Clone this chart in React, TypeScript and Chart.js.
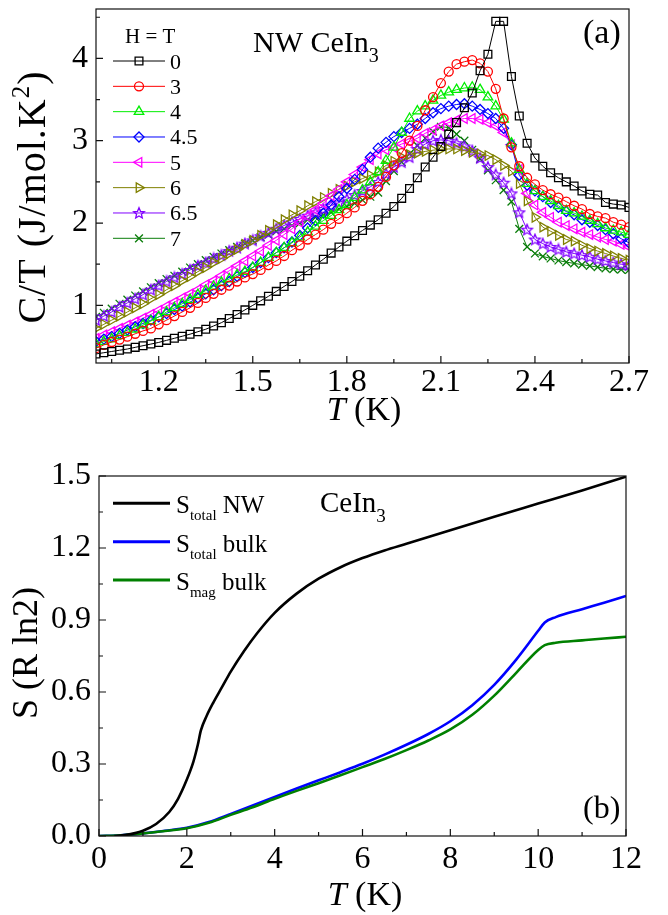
import React, { useEffect, useRef } from 'react';
import { Chart, registerables } from 'chart.js';

Chart.register(...registerables);

const FONT = "'Liberation Serif', 'Times New Roman', Times, serif";

// ---------------- Panel (a): C/T vs T ----------------
const T_A = [
  1.000, 1.025, 1.050, 1.075, 1.100, 1.125, 1.150, 1.175, 1.200, 1.225,
  1.250, 1.275, 1.300, 1.325, 1.350, 1.375, 1.400, 1.425, 1.450, 1.475,
  1.500, 1.525, 1.550, 1.575, 1.600, 1.625, 1.650, 1.675, 1.700, 1.725,
  1.750, 1.775, 1.800, 1.825, 1.850, 1.875, 1.900, 1.925, 1.950, 1.975,
  2.000, 2.025, 2.050, 2.075, 2.100, 2.125, 2.150, 2.175, 2.200, 2.225,
  2.250, 2.275, 2.300, 2.325, 2.350, 2.375, 2.400, 2.425, 2.450, 2.475,
  2.500, 2.525, 2.550, 2.575, 2.600, 2.625, 2.650, 2.675, 2.700,
];

const FIELD_LABELS = ['0', '3', '4', '4.5', '5', '6', '6.5', '7'];

const C_H0 = [
  0.41, 0.425, 0.44, 0.455, 0.47, 0.49, 0.51, 0.53, 0.55, 0.575,
  0.60, 0.625, 0.65, 0.68, 0.71, 0.75, 0.79, 0.84, 0.89, 0.945,
  1.00, 1.055, 1.11, 1.17, 1.23, 1.29, 1.355, 1.42, 1.49, 1.56,
  1.635, 1.71, 1.78, 1.845, 1.91, 1.975, 2.04, 2.12, 2.20, 2.30,
  2.42, 2.55, 2.68, 2.80, 2.93, 3.08, 3.22, 3.40, 3.58, 3.85,
  4.05, 4.45, 4.45, 3.78, 3.30, 2.97, 2.79, 2.69, 2.61, 2.55,
  2.50, 2.45, 2.39, 2.35, 2.34, 2.25, 2.23, 2.22, 2.19,
];
const C_H3 = [
  0.48, 0.52, 0.555, 0.585, 0.62, 0.655, 0.69, 0.72, 0.77, 0.82,
  0.87, 0.92, 0.97, 1.03, 1.09, 1.14, 1.19, 1.24, 1.29, 1.34,
  1.38, 1.43, 1.49, 1.54, 1.60, 1.67, 1.73, 1.80, 1.86, 1.92,
  1.99, 2.05, 2.12, 2.19, 2.27, 2.35, 2.44, 2.56, 2.70, 2.85,
  3.00, 3.18, 3.37, 3.53, 3.70, 3.84, 3.93, 3.96, 3.98, 3.94,
  3.84, 3.63, 3.27, 2.92, 2.69, 2.55, 2.47, 2.40, 2.35, 2.31,
  2.26, 2.21, 2.17, 2.11, 2.08, 2.06, 2.01, 1.98, 1.95,
];
const C_H4 = [
  0.53, 0.56, 0.59, 0.63, 0.67, 0.71, 0.76, 0.81, 0.86, 0.92,
  0.97, 1.02, 1.07, 1.13, 1.18, 1.23, 1.28, 1.32, 1.37, 1.41,
  1.46, 1.52, 1.58, 1.64, 1.70, 1.76, 1.83, 1.89, 1.96, 2.03,
  2.09, 2.16, 2.22, 2.31, 2.40, 2.50, 2.62, 2.76, 2.92, 3.10,
  3.27, 3.36, 3.42, 3.49, 3.55, 3.59, 3.62, 3.64, 3.65, 3.62,
  3.53, 3.42, 3.26, 2.97, 2.65, 2.48, 2.39, 2.32, 2.27, 2.21,
  2.15, 2.12, 2.08, 2.03, 1.99, 1.94, 1.91, 1.89, 1.86,
];
const C_H45 = [
  0.56, 0.59, 0.62, 0.66, 0.70, 0.74, 0.78, 0.82, 0.86, 0.90,
  0.95, 0.99, 1.04, 1.09, 1.14, 1.19, 1.24, 1.29, 1.35, 1.40,
  1.46, 1.52, 1.58, 1.64, 1.70, 1.77, 1.85, 1.94, 2.03, 2.12,
  2.22, 2.32, 2.42, 2.53, 2.65, 2.80, 2.91, 2.98, 3.05, 3.10,
  3.15, 3.20, 3.27, 3.34, 3.39, 3.42, 3.44, 3.45, 3.42, 3.38,
  3.33, 3.27, 3.15, 2.95, 2.58, 2.46, 2.39, 2.32, 2.25, 2.19,
  2.14, 2.10, 2.04, 2.01, 1.97, 1.92, 1.87, 1.81, 1.76,
];
const C_H5 = [
  0.60, 0.64, 0.68, 0.72, 0.76, 0.80, 0.845, 0.89, 0.94, 0.99,
  1.04, 1.09, 1.14, 1.19, 1.25, 1.30, 1.36, 1.42, 1.48, 1.54,
  1.60, 1.66, 1.73, 1.79, 1.86, 1.93, 2.01, 2.08, 2.16, 2.24,
  2.33, 2.41, 2.50, 2.59, 2.68, 2.77, 2.84, 2.89, 2.92, 2.96,
  2.99, 3.03, 3.09, 3.13, 3.18, 3.22, 3.25, 3.27, 3.27, 3.26,
  3.22, 3.18, 3.10, 2.95, 2.65, 2.36, 2.22, 2.13, 2.07, 2.01,
  1.97, 1.93, 1.89, 1.86, 1.83, 1.80, 1.78, 1.74, 1.71,
];
const C_H6 = [
  0.72, 0.77, 0.82, 0.87, 0.92, 0.97, 1.02, 1.08, 1.13, 1.19,
  1.24, 1.30, 1.35, 1.41, 1.46, 1.52, 1.57, 1.63, 1.68, 1.74,
  1.79, 1.85, 1.91, 1.98, 2.04, 2.10, 2.15, 2.21, 2.26, 2.31,
  2.36, 2.41, 2.45, 2.50, 2.54, 2.58, 2.62, 2.70, 2.75, 2.80,
  2.83, 2.85, 2.87, 2.885, 2.895, 2.90, 2.90, 2.88, 2.86, 2.84,
  2.82, 2.77, 2.70, 2.63, 2.48, 2.27, 2.07, 1.95, 1.90, 1.85,
  1.80, 1.78, 1.73, 1.69, 1.66, 1.63, 1.60, 1.57, 1.55,
];
const C_H65 = [
  0.82, 0.87, 0.92, 0.98, 1.03, 1.08, 1.13, 1.19, 1.24, 1.29,
  1.34, 1.38, 1.43, 1.48, 1.52, 1.57, 1.61, 1.66, 1.70, 1.75,
  1.79, 1.84, 1.88, 1.93, 1.97, 2.01, 2.05, 2.09, 2.13, 2.17,
  2.21, 2.25, 2.29, 2.34, 2.39, 2.44, 2.50, 2.60, 2.68, 2.74,
  2.80, 2.90, 2.96, 3.00, 3.01, 3.00, 2.97, 2.93, 2.88, 2.79,
  2.68, 2.59, 2.49, 2.36, 2.13, 1.92, 1.80, 1.75, 1.71, 1.68,
  1.65, 1.63, 1.61, 1.59, 1.56, 1.54, 1.52, 1.50, 1.49,
];
const C_H7 = [
  0.86, 0.91, 0.96, 1.02, 1.07, 1.12, 1.17, 1.22, 1.27, 1.32,
  1.36, 1.41, 1.46, 1.50, 1.55, 1.59, 1.63, 1.67, 1.71, 1.75,
  1.79, 1.83, 1.86, 1.90, 1.93, 1.97, 2.00, 2.04, 2.07, 2.10,
  2.13, 2.17, 2.20, 2.24, 2.28, 2.32, 2.37, 2.51, 2.63, 2.74,
  2.84, 2.94, 3.03, 3.11, 3.17, 3.16, 3.08, 3.00, 2.89, 2.78,
  2.64, 2.52, 2.40, 2.26, 1.93, 1.71, 1.63, 1.595, 1.57, 1.545,
  1.525, 1.51, 1.495, 1.48, 1.465, 1.45, 1.44, 1.435, 1.43,
];

const A_X_TICKS = [1.2, 1.5, 1.8, 2.1, 2.4, 2.7];
const A_X_LABELS = ['1.2', '1.5', '1.8', '2.1', '2.4', '2.7'];
const A_X_MINOR = [1.05, 1.35, 1.65, 1.95, 2.25, 2.55];
const A_Y_TICKS = [1, 2, 3, 4];
const A_Y_LABELS = ['1', '2', '3', '4'];
const A_Y_MINOR = [1.5, 2.5, 3.5, 4.5];

// ---------------- Panel (b): entropy ----------------
const T_NW = [
  0.35, 0.6, 1.0, 1.3, 1.6, 1.8, 2.0, 2.15, 2.25, 2.32, 2.45, 2.6, 2.8, 3.0,
  3.3, 3.6, 4.0, 4.5, 5.0, 5.5, 6.0, 6.5, 7.0, 8.0, 9.0, 10.0, 11.0, 12.0,
];
const S_TOTAL_NW = [
  0.0, 0.004, 0.022, 0.05, 0.10, 0.155, 0.235, 0.31, 0.38, 0.44, 0.50, 0.555, 0.62, 0.685,
  0.77, 0.845, 0.93, 1.01, 1.072, 1.12, 1.158, 1.19, 1.218, 1.274, 1.33, 1.385, 1.44, 1.497,
];
const T_BULK = [
  0, 0.5, 1, 1.5, 2, 2.5, 3, 3.5, 4, 4.5, 5, 5.5, 6, 6.5, 7, 7.5, 8, 8.5, 9, 9.5,
  10, 10.15, 10.4, 11, 11.5, 12,
];
const S_TOTAL_BULK = [
  0, 0.003, 0.011, 0.022, 0.034, 0.058, 0.092, 0.127, 0.163, 0.198, 0.232, 0.266, 0.301,
  0.339, 0.380, 0.425, 0.478, 0.545, 0.63, 0.735, 0.855, 0.89, 0.912, 0.945, 0.972, 1.0,
];
const S_MAG_BULK = [
  0, 0.003, 0.011, 0.021, 0.032, 0.055, 0.088, 0.12, 0.155, 0.188, 0.22, 0.253, 0.287,
  0.321, 0.358, 0.398, 0.444, 0.505, 0.585, 0.68, 0.775, 0.795, 0.805, 0.815, 0.823, 0.83,
];

const B_X_TICKS = [0, 2, 4, 6, 8, 10, 12];
const B_X_LABELS = ['0', '2', '4', '6', '8', '10', '12'];
const B_X_MINOR = [1, 3, 5, 7, 9, 11];
const B_Y_TICKS = [0, 0.3, 0.6, 0.9, 1.2, 1.5];
const B_Y_LABELS = ['0.0', '0.3', '0.6', '0.9', '1.2', '1.5'];
const B_Y_MINOR = [0.15, 0.45, 0.75, 1.05, 1.35];

// ---------------- styles ----------------
const A_SERIES = [C_H0, C_H3, C_H4, C_H45, C_H5, C_H6, C_H65, C_H7];
const A_STYLES = [
  { color: '#000000', point: 'rect', rot: 0, r: 5.5 },
  { color: '#ff0000', point: 'circle', rot: 0, r: 4.5 },
  { color: '#00ee00', point: 'triangle', rot: 0, r: 5.5 },
  { color: '#0000ff', point: 'rectRot', rot: 0, r: 5 },
  { color: '#ff00ff', point: 'triangle', rot: 270, r: 5.5 },
  { color: '#808000', point: 'triangle', rot: 90, r: 5.5 },
  { color: '#8000ff', point: 'star', rot: 0, r: 5 },
  { color: '#0a7d0a', point: 'crossRot', rot: 0, r: 5.5 },
];

type Run = { t: string; size: number; dy?: number; italic?: boolean };

function fontOf(r: Run) {
  return `${r.italic ? 'italic ' : ''}${r.size}px ${FONT}`;
}

function drawRuns(ctx: CanvasRenderingContext2D, x: number, y: number, runs: Run[], align: 'left' | 'center' = 'left') {
  ctx.textBaseline = 'alphabetic';
  ctx.textAlign = 'left';
  let total = 0;
  for (const r of runs) {
    ctx.font = fontOf(r);
    total += ctx.measureText(r.t).width;
  }
  let cx = align === 'center' ? x - total / 2 : x;
  for (const r of runs) {
    ctx.font = fontOf(r);
    ctx.fillText(r.t, cx, y + (r.dy || 0));
    cx += ctx.measureText(r.t).width;
  }
}

function drawRotated(ctx: CanvasRenderingContext2D, baseX: number, cy: number, runs: Run[], spacing = 0) {
  ctx.save();
  ctx.translate(baseX, cy);
  ctx.rotate(-Math.PI / 2);
  (ctx as any).letterSpacing = `${spacing}px`;
  drawRuns(ctx, 0, 0, runs, 'center');
  (ctx as any).letterSpacing = '0px';
  ctx.restore();
}

function starPath(ctx: CanvasRenderingContext2D, x: number, y: number, ro: number, ri: number) {
  ctx.beginPath();
  for (let k = 0; k < 10; k++) {
    const rr = k % 2 === 0 ? ro : ri;
    const a = -Math.PI / 2 + (k * Math.PI) / 5;
    const px = x + rr * Math.cos(a);
    const py = y + rr * Math.sin(a);
    if (k === 0) ctx.moveTo(px, py);
    else ctx.lineTo(px, py);
  }
  ctx.closePath();
}

function makeStar(color: string, r: number) {
  const size = Math.ceil(r * 2 + 4);
  const c = document.createElement('canvas');
  c.width = size;
  c.height = size;
  const g = c.getContext('2d')!;
  starPath(g, size / 2, size / 2 + 0.4, r + 0.6, (r + 0.6) * 0.45);
  g.strokeStyle = color;
  g.lineWidth = 1.3;
  g.stroke();
  return c;
}

function drawMarker(ctx: CanvasRenderingContext2D, kind: string, rotDeg: number, x: number, y: number, r: number, color: string, star: HTMLCanvasElement) {
  ctx.save();
  ctx.strokeStyle = color;
  ctx.lineWidth = 1.3;
  if (kind === 'star') {
    ctx.drawImage(star, x - star.width / 2, y - star.height / 2);
    ctx.restore();
    return;
  }
  ctx.beginPath();
  if (kind === 'rect') {
    const s = r * Math.SQRT1_2;
    ctx.rect(x - s, y - s, 2 * s, 2 * s);
  } else if (kind === 'circle') {
    ctx.arc(x, y, r, 0, Math.PI * 2);
  } else if (kind === 'triangle') {
    let rad = (rotDeg * Math.PI) / 180;
    ctx.moveTo(x + Math.sin(rad) * r, y - Math.cos(rad) * r);
    rad += (2 * Math.PI) / 3;
    ctx.lineTo(x + Math.sin(rad) * r, y - Math.cos(rad) * r);
    rad += (2 * Math.PI) / 3;
    ctx.lineTo(x + Math.sin(rad) * r, y - Math.cos(rad) * r);
    ctx.closePath();
  } else if (kind === 'rectRot') {
    ctx.moveTo(x - r, y);
    ctx.lineTo(x, y - r);
    ctx.lineTo(x + r, y);
    ctx.lineTo(x, y + r);
    ctx.closePath();
  } else if (kind === 'crossRot') {
    const o = r * Math.SQRT1_2;
    ctx.moveTo(x - o, y - o);
    ctx.lineTo(x + o, y + o);
    ctx.moveTo(x + o, y - o);
    ctx.lineTo(x - o, y + o);
  }
  ctx.stroke();
  ctx.restore();
}

function drawFrame(chart: any, xMaj: number[], xMin: number[], yMaj: number[], yMin: number[]) {
  const { ctx, chartArea: a, scales } = chart;
  ctx.save();
  ctx.strokeStyle = '#111';
  ctx.lineWidth = 1.2;
  ctx.strokeRect(a.left, a.top, a.right - a.left, a.bottom - a.top);
  ctx.beginPath();
  const tx = (vals: number[], len: number) => {
    for (const v of vals) {
      const p = scales.x.getPixelForValue(v);
      ctx.moveTo(p, a.bottom);
      ctx.lineTo(p, a.bottom - len);
    }
  };
  const ty = (vals: number[], len: number) => {
    for (const v of vals) {
      const p = scales.y.getPixelForValue(v);
      ctx.moveTo(a.left, p);
      ctx.lineTo(a.left + len, p);
    }
  };
  tx(xMaj, 7);
  tx(xMin, 4);
  ty(yMaj, 7);
  ty(yMin, 4);
  ctx.stroke();
  ctx.restore();
}

function scaleOpts(min: number, max: number, ticks: number[], labels: string[], fitSize: number, horizontal: boolean, padding: number) {
  return {
    type: 'linear',
    min,
    max,
    grid: { display: false, drawTicks: false },
    border: { display: false },
    ticks: {
      font: { family: FONT, size: 32 },
      color: '#000',
      padding,
      autoSkip: false,
      maxRotation: 0,
      minRotation: 0,
      callback: (_v: any, i: number) => labels[i],
    },
    afterBuildTicks: (ax: any) => {
      ax.ticks = ticks.map((v) => ({ value: v }));
    },
    afterFit: (ax: any) => {
      if (horizontal) {
        ax.height = fitSize;
        ax.paddingLeft = 0;
        ax.paddingRight = 0;
      } else {
        ax.width = fitSize;
        ax.paddingTop = 0;
        ax.paddingBottom = 0;
      }
    },
  };
}

export default function App() {
  const topRef = useRef<HTMLCanvasElement>(null);
  const botRef = useRef<HTMLCanvasElement>(null);

  useEffect(() => {
    const star = makeStar('#8000ff', 5);

    const topDatasets = A_SERIES.map((vals, k) => {
      const st = A_STYLES[k];
      return {
        label: FIELD_LABELS[k],
        data: T_A.map((t, i) => ({ x: t, y: vals[i] })),
        borderColor: st.color,
        backgroundColor: 'rgba(0,0,0,0)',
        borderWidth: 1,
        pointStyle: st.point === 'star' ? star : st.point,
        pointRotation: st.rot,
        pointRadius: st.r,
        pointBorderWidth: 1.3,
        pointBorderColor: st.color,
        pointBackgroundColor: 'rgba(0,0,0,0)',
        fill: false,
        tension: 0,
      };
    });

    const topDecor = {
      id: 'topDecor',
      afterDraw(chart: any) {
        const ctx: CanvasRenderingContext2D = chart.ctx;
        drawFrame(chart, A_X_TICKS, A_X_MINOR, A_Y_TICKS, A_Y_MINOR);
        ctx.save();
        ctx.fillStyle = '#000';
        drawRuns(ctx, 583, 43, [{ t: '(a)', size: 34 }]);
        drawRuns(ctx, 253, 52, [{ t: 'NW CeIn', size: 30 }, { t: '3', size: 20, dy: 10 }]);
        drawRuns(ctx, 125, 43, [{ t: 'H = T', size: 21 }]);
        for (let k = 0; k < FIELD_LABELS.length; k++) {
          const st = A_STYLES[k];
          const cy = 61 + k * 25.33;
          ctx.save();
          ctx.strokeStyle = st.color;
          ctx.lineWidth = 1;
          ctx.beginPath();
          ctx.moveTo(113, cy);
          ctx.lineTo(165, cy);
          ctx.stroke();
          ctx.restore();
          drawMarker(ctx, st.point, st.rot, 139, cy, st.r, st.color, star);
          ctx.fillStyle = '#000';
          drawRuns(ctx, 170, cy + 7.5, [{ t: FIELD_LABELS[k], size: 22 }]);
        }
        drawRuns(ctx, 364, 420, [{ t: 'T', size: 34, italic: true }, { t: ' (K)', size: 34 }], 'center');
        drawRotated(ctx, 45, 197, [
          { t: 'C/T (J/mol.K', size: 40 },
          { t: '2', size: 25, dy: -16 },
          { t: ')', size: 40 },
        ], 1);
        ctx.restore();
      },
    };

    const top = new Chart(topRef.current!, {
      type: 'line',
      data: { datasets: topDatasets as any },
      options: {
        responsive: false,
        animation: false,
        devicePixelRatio: 1,
        layout: { padding: { left: 0, right: 39, top: 9, bottom: 0 } },
        plugins: { legend: { display: false }, tooltip: { enabled: false } },
        scales: {
          x: scaleOpts(1.0, 2.7, A_X_TICKS, A_X_LABELS, 87, true, 0) as any,
          y: scaleOpts(0.3, 4.6, A_Y_TICKS, A_Y_LABELS, 96, false, 8) as any,
        },
      },
      plugins: [topDecor],
    });

    const botStyles = [
      { label: 'S_total NW', T: T_NW, S: S_TOTAL_NW, color: '#000000' },
      { label: 'S_mag bulk', T: T_BULK, S: S_MAG_BULK, color: '#008000' },
      { label: 'S_total bulk', T: T_BULK, S: S_TOTAL_BULK, color: '#0000ff' },
    ];
    const botDatasets = botStyles.map((b) => ({
      label: b.label,
      data: b.T.map((t, i) => ({ x: t, y: b.S[i] })),
      borderColor: b.color,
      backgroundColor: 'rgba(0,0,0,0)',
      borderWidth: 2.6,
      pointRadius: 0,
      fill: false,
      cubicInterpolationMode: 'monotone',
    }));

    const botDecor = {
      id: 'botDecor',
      afterDraw(chart: any) {
        const ctx: CanvasRenderingContext2D = chart.ctx;
        drawFrame(chart, B_X_TICKS, B_X_MINOR, B_Y_TICKS, B_Y_MINOR);
        ctx.save();
        const rows = [
          { color: '#000000', ly: 53.3, by: 63, sub: 'total', tail: ' NW' },
          { color: '#0000ff', ly: 91.7, by: 102, sub: 'total', tail: ' bulk' },
          { color: '#008000', ly: 130, by: 140, sub: 'mag', tail: ' bulk' },
        ];
        for (const r of rows) {
          ctx.strokeStyle = r.color;
          ctx.lineWidth = 3;
          ctx.beginPath();
          ctx.moveTo(113, r.ly);
          ctx.lineTo(170, r.ly);
          ctx.stroke();
          ctx.fillStyle = '#000';
          drawRuns(ctx, 176, r.by, [
            { t: 'S', size: 25 },
            { t: r.sub, size: 15, dy: 7 },
            { t: r.tail, size: 25 },
          ]);
        }
        ctx.fillStyle = '#000';
        drawRuns(ctx, 320, 62, [{ t: 'CeIn', size: 29 }, { t: '3', size: 19, dy: 10 }]);
        drawRuns(ctx, 583, 368, [{ t: '(b)', size: 32 }]);
        drawRuns(ctx, 365, 455, [{ t: 'T', size: 34, italic: true }, { t: ' (K)', size: 34 }], 'center');
        drawRotated(ctx, 37, 203, [{ t: 'S (R ln2)', size: 36 }]);
        ctx.restore();
      },
    };

    const bot = new Chart(botRef.current!, {
      type: 'line',
      data: { datasets: botDatasets as any },
      options: {
        responsive: false,
        animation: false,
        devicePixelRatio: 1,
        layout: { padding: { left: 0, right: 42, top: 26, bottom: 0 } },
        plugins: { legend: { display: false }, tooltip: { enabled: false } },
        scales: {
          x: scaleOpts(0, 12, B_X_TICKS, B_X_LABELS, 79, true, 4) as any,
          y: scaleOpts(0, 1.5, B_Y_TICKS, B_Y_LABELS, 99, false, 8) as any,
        },
      },
      plugins: [botDecor],
    });

    return () => {
      top.destroy();
      bot.destroy();
    };
  }, []);

  return (
    <div style={{ position: 'absolute', left: 0, top: 0, width: 668, height: 915, background: '#fff' }}>
      <canvas ref={topRef} width={668} height={450} style={{ position: 'absolute', left: 0, top: 0, width: 668, height: 450 }} />
      <canvas ref={botRef} width={668} height={465} style={{ position: 'absolute', left: 0, top: 450, width: 668, height: 465 }} />
    </div>
  );
}
